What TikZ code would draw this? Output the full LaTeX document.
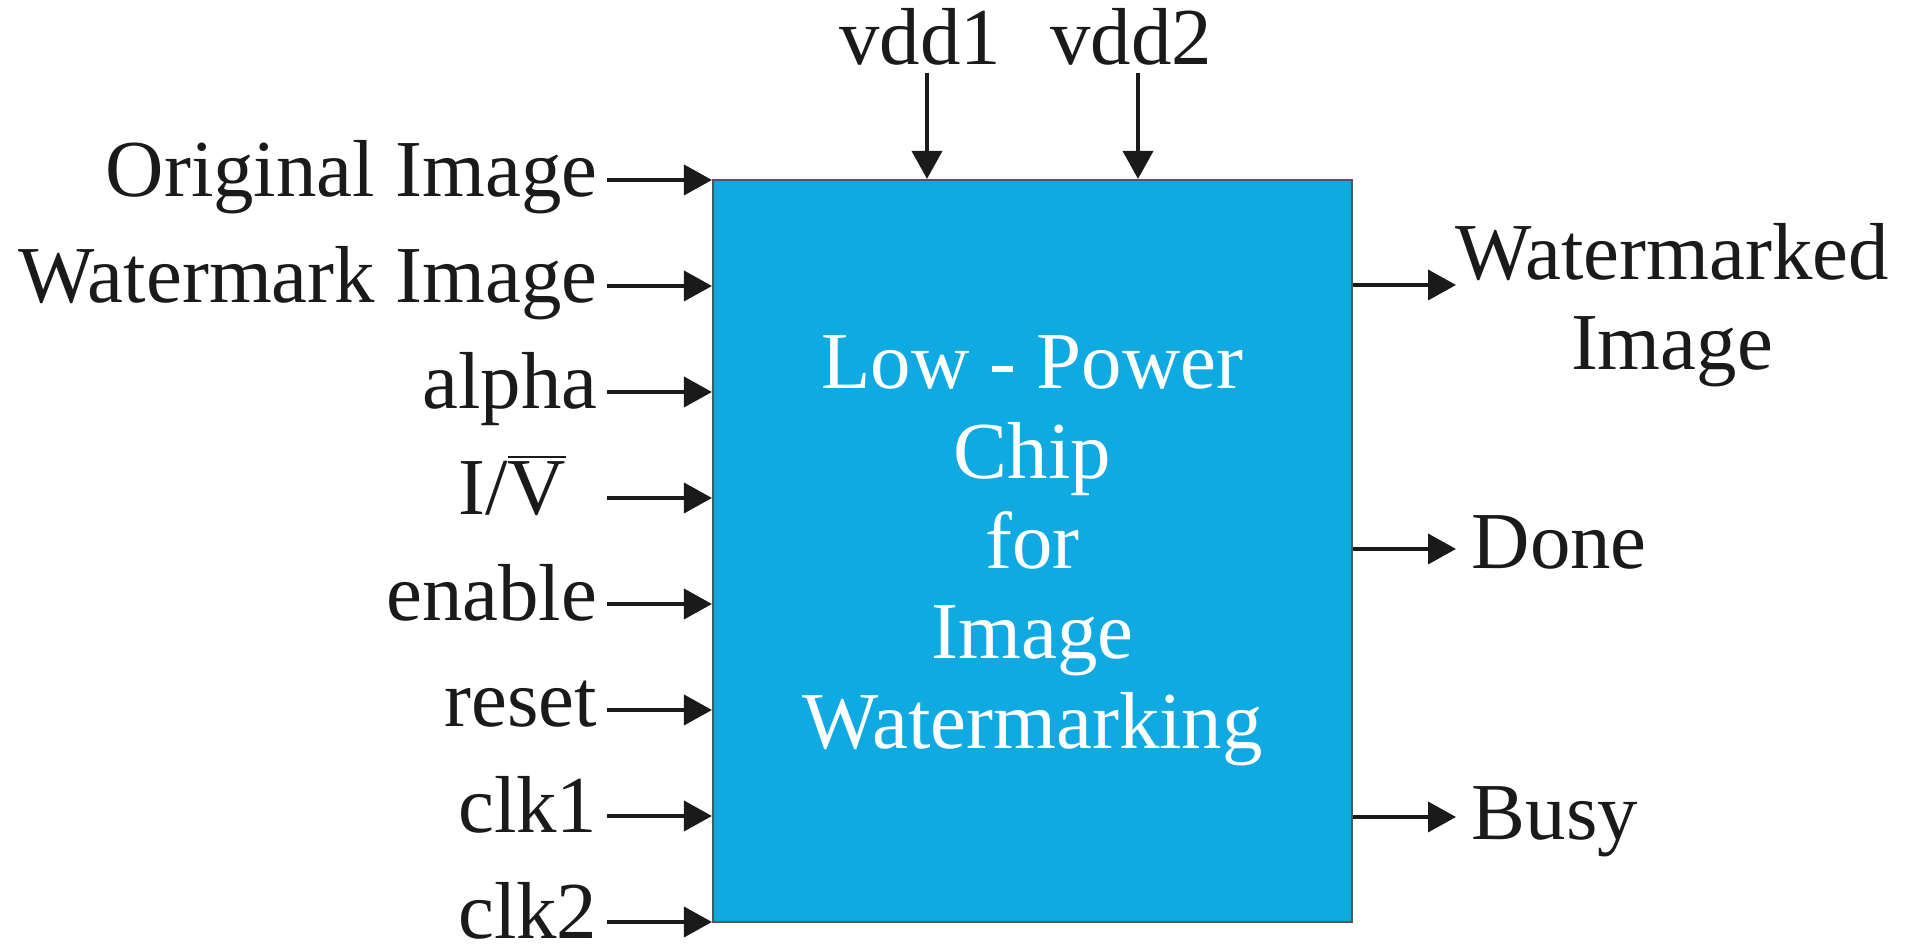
\documentclass[tikz,border=0pt]{standalone}
\usepackage{fontspec}
\setmainfont{Liberation Serif}
\usepackage{tikz}
\usetikzlibrary{arrows.meta,positioning}
\definecolor{chipblue}{HTML}{0FAAE1}
\definecolor{ink}{HTML}{1A1A1A}
\definecolor{edgegray}{HTML}{4A5A60}
\tikzset{
  chip/.style={draw=edgegray,fill=chipblue,line width=0.6pt,
               minimum width=6.39cm,minimum height=7.42cm,inner sep=0pt},
  chiptext/.style={text=white,align=center,inner sep=0pt,
                   font=\fontsize{23}{25.6}\selectfont},
  pinlabel/.style={text=ink,inner sep=0pt,font=\fontsize{23}{25.6}\selectfont},
  pinarr/.style={-{Triangle[length=2.8mm,width=3mm]},line width=1.1pt,
                 draw=ink}
}

\begin{document}
\begin{tikzpicture}[x=1cm,y=1cm]
    \path[use as bounding box] (0,0) rectangle (19.06,9.48);
    \node[chip] (chip) at (10.325,3.97) {};
    \node[chiptext] (title) at (chip.center)
      {Low - Power\\Chip\\for\\Image\\Watermarking};

    % inputs on the left
    \foreach \y/\lx/\name/\txt in {
        7.68/5.98/orig/Original Image,
        6.62/5.98/wmark/Watermark Image,
        5.56/5.98/alpha/alpha,
        4.50/5.67/iv/{I/$\overline{\mbox{V}}$},
        3.44/5.98/enable/enable,
        2.38/5.98/reset/reset,
        1.32/5.98/clka/clk1,
        0.26/5.98/clkb/clk2}{
      \node[pinlabel,anchor=base east] (\name) at (\lx,\y-0.17) {\txt};
      \coordinate (\name-in) at (6.07,\y);
      \draw[pinarr] (\name-in) -- (chip.west |- \name-in);
    }

    % supply pins on top
    \foreach \x/\name/\txt in {9.27/vdda/vdd1, 11.38/vddb/vdd2}{
      \node[pinlabel,anchor=base] (\name) at (\x-0.07,8.83) {\txt};
      \coordinate (\name-in) at (\x,8.75);
      \draw[pinarr] (\name-in) -- (chip.north -| \name-in);
    }

    % outputs on the right
    \coordinate (wout) at (14.56,6.63);
    \coordinate (dout) at (14.56,3.99);
    \coordinate (bout) at (14.56,1.31);
    \draw[pinarr] (chip.east |- wout) -- (wout);
    \draw[pinarr] (chip.east |- dout) -- (dout);
    \draw[pinarr] (chip.east |- bout) -- (bout);
    \node[pinlabel,align=center,anchor=north] (wimg) at (16.72,7.25)
      {Watermarked\\Image};
    \node[pinlabel,anchor=base west] (done) at (14.71,3.79) {Done};
    \node[pinlabel,anchor=base west] (busy) at (14.71,1.08) {Busy};
\end{tikzpicture}
\end{document}
